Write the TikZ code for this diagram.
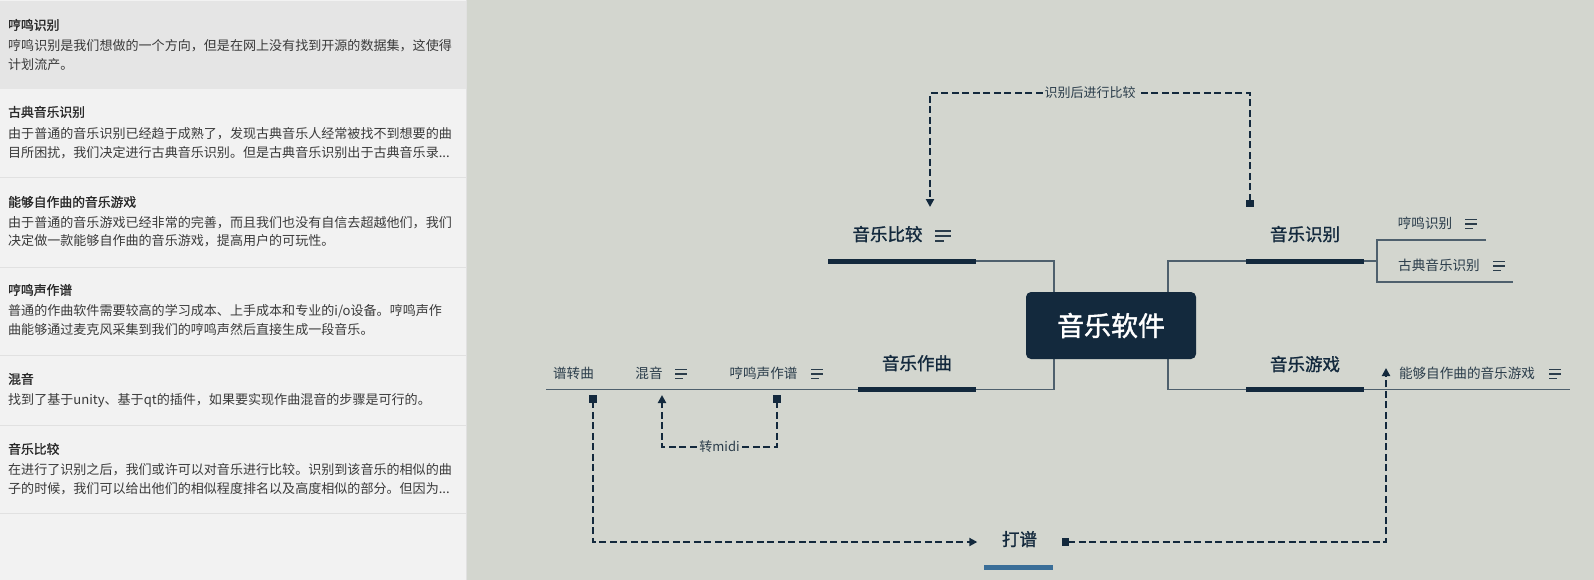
\documentclass[tikz,border=0pt]{standalone}
\usepackage{fontspec}
\setmainfont{Noto Sans CJK SC}
\newfontfamily\topicfont{Noto Sans CJK SC}[FakeBold=1.2]
\newfontfamily\titlefont{Noto Sans CJK SC}[FakeBold=1.3]
\newfontfamily\rootfont{Noto Sans CJK SC}[FakeBold=1.6]
\usetikzlibrary{arrows.meta}
\definecolor{canvas}{HTML}{D3D6CF}
\definecolor{panel}{HTML}{F2F2F2}
\definecolor{panelhi}{HTML}{E5E5E5}
\definecolor{divider}{HTML}{E1E1E1}
\definecolor{navy}{HTML}{13293D}
\definecolor{thinline}{HTML}{4E606D}
\definecolor{subtxt}{HTML}{2B3D4B}
\definecolor{paneltxt}{HTML}{3A3A3A}
\definecolor{paneltitle}{HTML}{2A2A2A}
\definecolor{floatbar}{HTML}{3A6E98}
\begin{document}
\begin{tikzpicture}[x=1pt,y=-1pt,
  ptitle/.style={anchor=west,inner sep=0pt,font=\fontsize{12.8}{15}\titlefont,text=paneltitle,text height=0.88em,text depth=0.12em},
  pline/.style={anchor=west,inner sep=0pt,font=\fontsize{13.05}{16}\selectfont,text=paneltxt,text height=0.88em,text depth=0.12em},
  topic/.style={inner sep=0pt,font=\fontsize{17.5}{20}\topicfont,text=navy,text height=0.88em,text depth=0.12em},
  subtopic/.style={inner sep=0pt,font=\fontsize{13.6}{16}\selectfont,text=subtxt,text height=0.88em,text depth=0.12em},
  bar/.style={line width=5pt,navy},
  branch/.style={line width=1.3pt,thinline},
  rel/.style={line width=2.3pt,navy,dash pattern=on 7pt off 3.5pt},
  rellabel/.style={fill=canvas,inner xsep=1pt,inner ysep=0pt,font=\fontsize{13}{15}\selectfont,text=subtxt},
  bigicon/.pic={\draw[line width=1.4pt,subtxt] (0,-5) -- (16,-5) (0,0) -- (16,0) (0,5) -- (9,5);},
  smallicon/.pic={\draw[line width=1.2pt,subtxt] (0,-4.5) -- (12,-4.5) (0,0) -- (12,0) (0,4.5) -- (8,4.5);}
]
\useasboundingbox (0,0) rectangle (1594,580);
% backgrounds
\fill[canvas] (0,0) rectangle (1594,580);
\fill[panel] (0,0) rectangle (466,580);
\fill[panelhi] (0,1) rectangle (466,89);
\draw[divider,line width=1pt] (466.5,0) -- (466.5,580);
\foreach \yy in {178,267,355,425,513} \draw[divider,line width=1pt] (0,\yy) -- (466,\yy);

% panel texts
\node[ptitle] (t1) at (8,26) {哼鸣识别};
\node[pline] (t1a) at (8,47) {哼鸣识别是我们想做的一个方向，但是在网上没有找到开源的数据集，这使得};
\node[pline] (t1b) at (8,65.5) {计划流产。};
\node[ptitle] (t2) at (8,113) {古典音乐识别};
\node[pline] (t2a) at (8,135) {由于普通的音乐识别已经趋于成熟了，发现古典音乐人经常被找不到想要的曲};
\node[pline] (t2b) at (8,153.5) {目所困扰，我们决定进行古典音乐识别。但是古典音乐识别出于古典音乐录...};
\node[ptitle] (t3) at (8,203) {能够自作曲的音乐游戏};
\node[pline] (t3a) at (8,223.5) {由于普通的音乐游戏已经非常的完善，而且我们也没有自信去超越他们，我们};
\node[pline] (t3b) at (8,242) {决定做一款能够自作曲的音乐游戏，提高用户的可玩性。};
\node[ptitle] (t4) at (8,291) {哼鸣声作谱};
\node[pline] (t4a) at (8,312) {普通的作曲软件需要较高的学习成本、上手成本和专业的i/o设备。哼鸣声作};
\node[pline] (t4b) at (8,330.5) {曲能够通过麦克风采集到我们的哼鸣声然后直接生成一段音乐。};
\node[ptitle] (t5) at (8,380) {混音};
\node[pline] (t5a) at (8,401) {找到了基于unity、基于qt的插件，如果要实现作曲混音的步骤是可行的。};
\node[ptitle] (t6) at (8,450) {音乐比较};
\node[pline] (t6a) at (8,471) {在进行了识别之后，我们或许可以对音乐进行比较。识别到该音乐的相似的曲};
\node[pline] (t6b) at (8,489.5) {子的时候，我们可以给出他们的相似程度排名以及高度相似的部分。但因为...};

% mind map coordinates
\coordinate (cmpL) at (828,261);
\coordinate (cmpR) at (976,261);
\coordinate (recL) at (1246,261);
\coordinate (recR) at (1364,261);
\coordinate (compL) at (858,389.5);
\coordinate (compR) at (976,389.5);
\coordinate (gameL) at (1246,389.5);
\coordinate (gameR) at (1364,389.5);
\coordinate (spineL) at (1054,325);
\coordinate (spineR) at (1168,325);
\coordinate (sub1L) at (1377,240);
\coordinate (sub1R) at (1486,240);
\coordinate (sub2L) at (1377,282);
\coordinate (sub2R) at (1513,282);
\coordinate (gameEnd) at (1570,389.5);
\coordinate (compEnd) at (546,389.5);

% branches
\draw[branch] (cmpR) -| (spineL) |- (compR);
\draw[branch] (recL) -| (spineR) |- (gameL);
\draw[branch] (recR) -- (recR -| sub1L);
\draw[branch] (sub1R) -- (sub1L) -- (sub2L) -- (sub2R);
\draw[branch] (gameR) -- (gameEnd);
\draw[branch] (compL) -- (compEnd);
\draw[bar] (cmpL) -- (cmpR);
\draw[bar] (recL) -- (recR);
\draw[bar] (compL) -- (compR);
\draw[bar] (gameL) -- (gameR);

% central node
\node[fill=navy,rounded corners=5pt,minimum width=170pt,minimum height=67pt,inner sep=0pt,text=white,font=\fontsize{27}{30}\rootfont] (root) at (1111,325.5) {音乐软件};

% topics
\node[topic] (cmp) at (887.5,237) {音乐比较};
\pic at (935,236) {bigicon};
\node[topic] (rec) at (1305,237) {音乐识别};
\node[topic] (comp) at (917,366) {音乐作曲};
\node[topic] (game) at (1305,367) {音乐游戏};
\node[topic,minimum width=84pt] (dapu) at (1019.5,542) {打谱};
\draw[floatbar,line width=5pt] (984,567) -- (1053,567);

% subtopics
\node[subtopic] (hm) at (1425,225) {哼鸣识别};
\pic at (1465,224) {smallicon};
\node[subtopic] (gd) at (1439,267) {古典音乐识别};
\pic at (1493,266) {smallicon};
\node[subtopic] (zq) at (1467,375) {能够自作曲的音乐游戏};
\pic at (1549,374) {smallicon};
\node[subtopic] (pzq) at (573.5,375) {谱转曲};
\node[subtopic] (hy) at (649,375) {混音};
\pic at (675,374) {smallicon};
\node[subtopic] (hmsz) at (763.5,375) {哼鸣声作谱};
\pic at (811,374) {smallicon};

% relationship anchors
\coordinate (r1s) at (1250,207);
\coordinate (r1e) at (930,207);
\coordinate (h1s) at (777,395);
\coordinate (h1e) at (662,395);
\coordinate (p1s) at (593,395);
\coordinate (g1e) at (1386,368);

\tikzset{relarrows/.style={{Square[length=7.5pt,width=7.5pt]}-{Triangle[length=8pt,width=8pt]}}}
\draw[rel,relarrows] (r1s) -- ++(0,-114) -| node[rellabel,pos=0.25] {识别后进行比较} (r1e);
\draw[rel,relarrows] (h1s) -- ++(0,52) -| node[rellabel,pos=0.25] {转midi} (h1e);
\draw[rel,relarrows] (p1s) |- (dapu.west);
\draw[rel,relarrows] (dapu.east) -| (g1e);
\end{tikzpicture}
\end{document}
